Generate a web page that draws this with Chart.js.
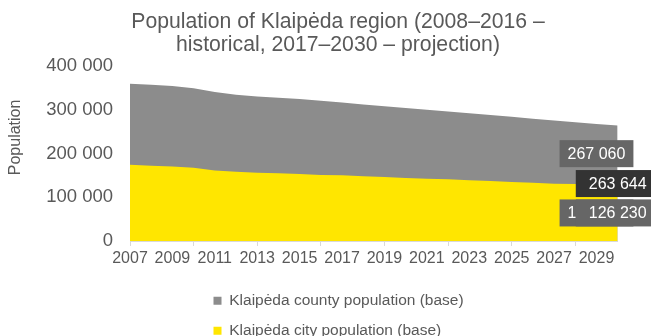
<!DOCTYPE html>
<html>
<head>
<meta charset="utf-8">
<script src="https://cdn.jsdelivr.net/npm/chart.js@4"></script>
<style>
html,body{margin:0;padding:0;background:#ffffff;}
#wrap{width:651px;height:336px;position:relative;}
</style>
</head>
<body>
<div id="wrap"><canvas id="c"></canvas></div>
<script>
// ---- data ----
const years = [2007,2008,2009,2010,2011,2012,2013,2014,2015,2016,2017,2018,2019,2020,2021,2022,2023,2024,2025,2026,2027,2028,2029,2030];
const countyPopulation = [359000,357000,354000,349000,340000,334000,330000,327000,324000,320000,316000,312000,308000,304000,300000,296000,292000,288000,284000,279000,275000,271000,267060,263644];
const cityPopulation   = [174000,172000,170000,167500,161000,158000,156000,155000,153000,151000,150000,148000,146000,144000,142000,141000,139000,137000,135000,133000,131000,130000,128000,126230];
const seriesNames = ['Klaipėda county population (base)', 'Klaipėda city population (base)'];
const titleLines = ['Population of Klaipėda region (2008–2016 –', 'historical, 2017–2030 – projection)'];
const yAxisTitle = 'Population';
const yTickValues = [0,100000,200000,300000,400000];
const xLabelYears = [2007,2009,2011,2013,2015,2017,2019,2021,2023,2025,2027,2029];
const xTickMarkYears = [2007,2010,2013,2016,2019,2022,2025,2028];
// labelled points: [series index, year]
const labelledPoints = [[1,2029],[0,2029],[0,2030],[1,2030]];

const fmt = v => String(Math.round(v)).replace(/\B(?=(\d{3})+(?!\d))/g, ' ');
const FONT = '"Liberation Sans", Arial, Helvetica, sans-serif';
const TXT = '#595959';

Chart.defaults.font.family = FONT;
Chart.defaults.color = TXT;

const endLabels = {
  id: 'endLabels',
  afterDatasetsDraw(chart, args, o) {
    const ctx = chart.ctx, xs = chart.scales.x, ys = chart.scales.y;
    ctx.save();
    ctx.font = '16px ' + FONT;
    ctx.textAlign = 'center';
    ctx.textBaseline = 'middle';
    labelledPoints.forEach((lp, k) => {
      const st = o.styles[k];
      const ds = chart.data.datasets[lp[0]];
      const idx = years.indexOf(lp[1]);
      const v = ds.data[idx].y;
      const px = xs.getPixelForValue(lp[1]);
      const py = ys.getPixelForValue(v) + st.dy;
      const text = fmt(v);
      const w = ctx.measureText(text).width + 2 * st.padX;
      const h = st.h;
      ctx.fillStyle = st.bg;
      ctx.fillRect(px - w / 2, py - h / 2, w, h);
      ctx.fillStyle = '#ffffff';
      ctx.fillText(text, px, py + 1);
    });
    ctx.restore();
  }
};

const layoutTweaks = {
  id: 'layoutTweaks',
  afterLayout(chart, args, o) {
    const t = chart.titleBlock;
    if (t) { t.left = o.titleLeft; t.right = o.titleRight; }
    const L = chart.legend;
    if (L) {
      const w = L.right - L.left;
      L.left = o.legendLeft; L.right = L.left + w;
      L.top += o.legendDown; L.bottom += o.legendDown;
    }
  },
  beforeDraw(chart, args, o) {
    const y = chart.scales.y;
    if (y) { y._origBottom = y.bottom; y.bottom -= o.yTitleLift; }
  },
  beforeDatasetsDraw(chart) {
    const y = chart.scales.y;
    if (y && y._origBottom !== undefined) { y.bottom = y._origBottom; delete y._origBottom; }
  }
};

new Chart(document.getElementById('c'), {
  type: 'line',
  data: {
    datasets: [
      {
        label: seriesNames[0],
        data: years.map((yr, i) => ({x: yr, y: countyPopulation[i]})),
        backgroundColor: '#8c8c8c',
        borderColor: '#8c8c8c',
        borderWidth: 0,
        fill: 'origin',
        pointRadius: 0,
        order: 2
      },
      {
        label: seriesNames[1],
        data: years.map((yr, i) => ({x: yr, y: cityPopulation[i]})),
        backgroundColor: '#ffe600',
        borderColor: '#ffe600',
        borderWidth: 0,
        fill: 'origin',
        pointRadius: 0,
        order: 1
      }
    ]
  },
  options: {
    responsive: true,
    maintainAspectRatio: false,
    animation: false,
    layout: { padding: { left: 0, right: 33.3, top: 0, bottom: 0 } },
    elements: { line: { tension: 0 } },
    scales: {
      x: {
        type: 'linear',
        min: years[0],
        max: years[years.length - 1],
        afterFit: s => { s.height = 25; },
        ticks: {
          stepSize: 1,
          autoSkip: false,
          maxRotation: 0,
          padding: 3,
          color: TXT,
          font: { size: 16 },
          callback: v => xLabelYears.includes(v) ? String(v) : ''
        },
        grid: {
          display: true,
          drawOnChartArea: false,
          drawTicks: true,
          tickLength: 5,
          tickWidth: 1,
          tickColor: c => (c.tick && xTickMarkYears.includes(c.tick.value)) ? '#d9d9d9' : 'rgba(0,0,0,0)'
        },
        border: { display: true, color: '#d9d9d9', width: 1 }
      },
      y: {
        min: 0,
        max: 400000,
        afterFit: s => { s.width = 130; },
        afterBuildTicks: s => { s.ticks = yTickValues.map(v => ({value: v})); },
        ticks: {
          padding: 17,
          color: TXT,
          font: { size: 18.5 },
          callback: v => fmt(v)
        },
        grid: { display: false, drawTicks: false },
        border: { display: false },
        title: {
          display: true,
          text: yAxisTitle,
          color: TXT,
          font: { size: 16 },
          padding: { top: 6, bottom: 0 }
        }
      }
    },
    plugins: {
      title: {
        display: true,
        text: titleLines,
        color: TXT,
        font: { size: 21.2, weight: 'normal', lineHeight: 1.1 },
        padding: { top: 10, bottom: 9.2 }
      },
      legend: {
        display: true,
        position: 'bottom',
        fullSize: false,
        align: 'start',
        labels: {
          boxWidth: 8,
          boxHeight: 8,
          padding: 14.5,
          color: TXT,
          font: { size: 15.5 },
          sort: (a, b) => a.datasetIndex - b.datasetIndex
        }
      },
      tooltip: { enabled: false },
      endLabels: {
        styles: [
          { dy: 28,   padX: 8,  h: 27, bg: '#666666' },
          { dy: 29.6, padX: 8,  h: 27, bg: '#666666' },
          { dy: 58,   padX: 13, h: 27, bg: '#333333' },
          { dy: 27.2, padX: 13, h: 27, bg: '#666666' }
        ]
      },
      layoutTweaks: { titleLeft: 25, titleRight: 651, legendLeft: 199, legendDown: 12.4, yTitleLift: 32 }
    }
  },
  plugins: [endLabels, layoutTweaks]
});
</script>
</body>
</html>
